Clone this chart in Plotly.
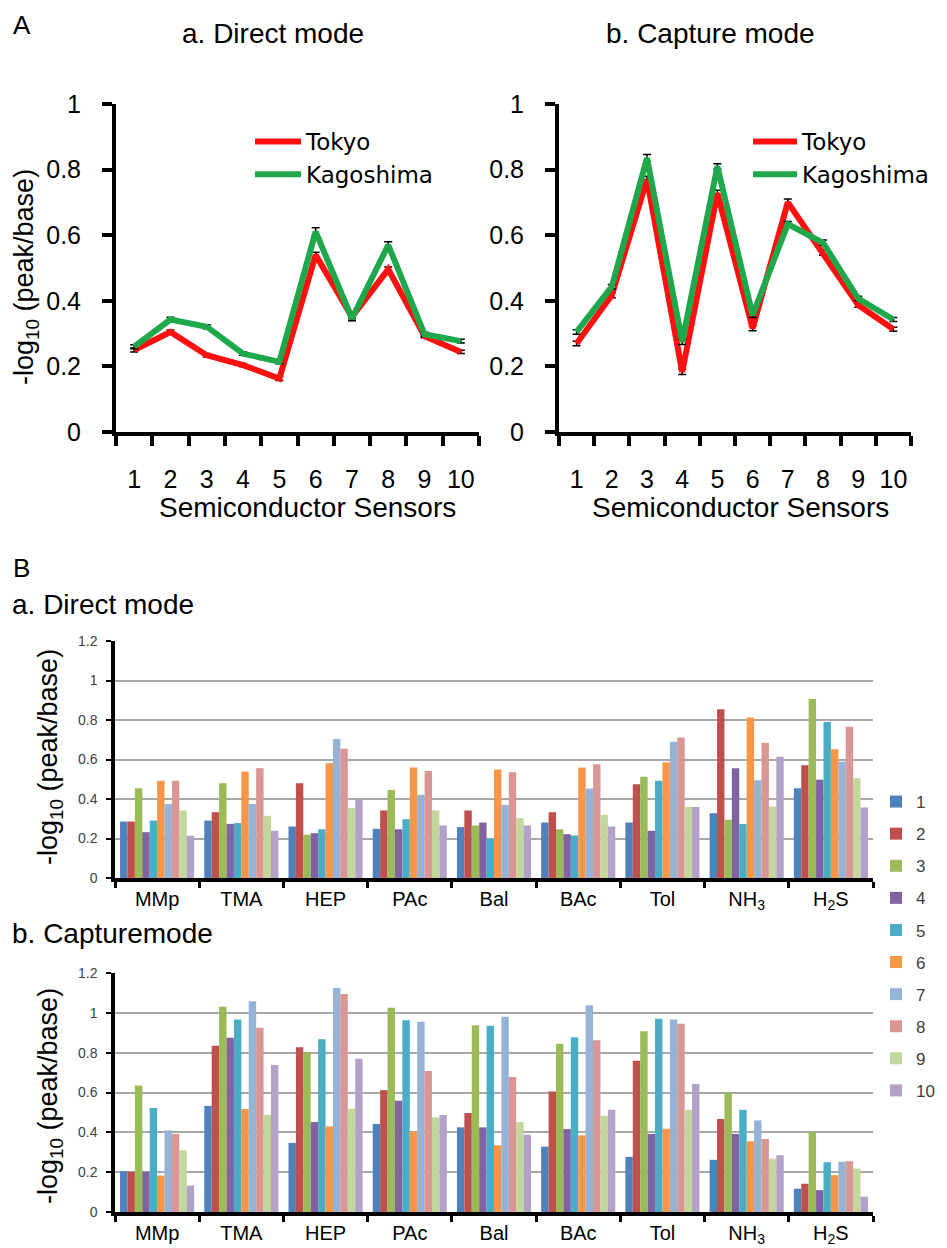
import plotly.graph_objects as go

W, H = 947, 1248
FONT = "Arial, Liberation Sans, sans-serif"
LEGFONT = "DejaVu Sans, Arial, sans-serif"

# ---------------- Data: panel A ----------------
sensors = [str(i) for i in range(1, 11)]
direct_tokyo = [0.250, 0.305, 0.234, 0.204, 0.163, 0.540, 0.351, 0.496, 0.292, 0.244]
direct_kagoshima = [0.260, 0.343, 0.321, 0.239, 0.214, 0.611, 0.346, 0.570, 0.298, 0.277]
direct_tokyo_err = [0.006, 0.006, 0.005, 0.005, 0.006, 0.008, 0.006, 0.007, 0.005, 0.005]
direct_kagoshima_err = [0.006, 0.007, 0.006, 0.005, 0.006, 0.012, 0.007, 0.010, 0.006, 0.006]

capture_tokyo = [0.270, 0.417, 0.770, 0.183, 0.728, 0.316, 0.700, 0.547, 0.387, 0.313]
capture_kagoshima = [0.305, 0.443, 0.835, 0.275, 0.810, 0.356, 0.634, 0.577, 0.407, 0.343]
capture_tokyo_err = [0.007, 0.008, 0.010, 0.008, 0.009, 0.007, 0.010, 0.008, 0.007, 0.006]
capture_kagoshima_err = [0.007, 0.007, 0.011, 0.008, 0.008, 0.007, 0.008, 0.008, 0.007, 0.006]

# ---------------- Data: panel B ----------------
compounds = ["MMp", "TMA", "HEP", "PAc", "Bal", "BAc", "Tol", "NH<sub>3</sub>", "H<sub>2</sub>S"]
sensor_names = [str(i) for i in range(1, 11)]

# direct mode, values of sensors 1..10 for each compound
d_MMp = [0.286, 0.286, 0.455, 0.232, 0.291, 0.492, 0.374, 0.493, 0.342, 0.214]
d_TMA = [0.291, 0.333, 0.480, 0.274, 0.278, 0.539, 0.375, 0.556, 0.315, 0.239]
d_HEP = [0.261, 0.480, 0.219, 0.227, 0.247, 0.581, 0.704, 0.655, 0.354, 0.396]
d_PAc = [0.249, 0.342, 0.446, 0.247, 0.298, 0.559, 0.421, 0.542, 0.342, 0.266]
d_Bal = [0.258, 0.342, 0.266, 0.281, 0.200, 0.549, 0.370, 0.535, 0.303, 0.266]
d_BAc = [0.281, 0.333, 0.247, 0.222, 0.215, 0.559, 0.453, 0.576, 0.320, 0.261]
d_Tol = [0.281, 0.475, 0.513, 0.239, 0.492, 0.586, 0.690, 0.712, 0.360, 0.360]
d_NH3 = [0.328, 0.855, 0.295, 0.556, 0.273, 0.813, 0.495, 0.685, 0.362, 0.614]
d_H2S = [0.455, 0.571, 0.906, 0.498, 0.790, 0.652, 0.589, 0.766, 0.505, 0.357]

# capture mode
c_MMp = [0.205, 0.202, 0.635, 0.202, 0.522, 0.183, 0.410, 0.392, 0.310, 0.133]
c_TMA = [0.533, 0.835, 1.030, 0.875, 0.967, 0.517, 1.058, 0.925, 0.488, 0.738]
c_HEP = [0.347, 0.827, 0.802, 0.452, 0.867, 0.430, 1.125, 1.095, 0.518, 0.770]
c_PAc = [0.442, 0.612, 1.025, 0.558, 0.963, 0.405, 0.955, 0.708, 0.475, 0.487]
c_Bal = [0.425, 0.497, 0.938, 0.425, 0.935, 0.335, 0.980, 0.678, 0.452, 0.388]
c_BAc = [0.328, 0.605, 0.845, 0.417, 0.878, 0.385, 1.038, 0.862, 0.483, 0.513]
c_Tol = [0.277, 0.760, 0.907, 0.392, 0.970, 0.418, 0.967, 0.945, 0.513, 0.643]
c_NH3 = [0.262, 0.467, 0.600, 0.392, 0.513, 0.355, 0.460, 0.367, 0.268, 0.285]
c_H2S = [0.117, 0.142, 0.402, 0.110, 0.250, 0.185, 0.252, 0.255, 0.218, 0.077]

direct_rows = [d_MMp, d_TMA, d_HEP, d_PAc, d_Bal, d_BAc, d_Tol, d_NH3, d_H2S]
capture_rows = [c_MMp, c_TMA, c_HEP, c_PAc, c_Bal, c_BAc, c_Tol, c_NH3, c_H2S]

bar_colors = ["#4F81BD", "#C0504D", "#9BBB59", "#8064A2", "#4BACC6",
              "#F79646", "#95B3D7", "#D99694", "#C3D69B", "#B3A2C7"]
RED = "#FF1010"
GREEN = "#1EA84B"


def xd(a, b):
    return [a / W, b / W]


def yd(top, bottom):
    return [1 - bottom / H, 1 - top / H]


fig = go.Figure()

# ---------- Panel A lines ----------
for xa, ya, tok, kag, terr, kerr, leg in [
    ("x", "y", direct_tokyo, direct_kagoshima, direct_tokyo_err, direct_kagoshima_err, "legend"),
    ("x2", "y2", capture_tokyo, capture_kagoshima, capture_tokyo_err, capture_kagoshima_err, "legend2"),
]:
    fig.add_trace(go.Scatter(
        x=sensors, y=tok, name="Tokyo", mode="lines", xaxis=xa, yaxis=ya,
        line=dict(color=RED, width=6), legend=leg,
        error_y=dict(type="data", array=terr, color="black", thickness=1.5, width=4),
    ))
    fig.add_trace(go.Scatter(
        x=sensors, y=kag, name="Kagoshima", mode="lines", xaxis=xa, yaxis=ya,
        line=dict(color=GREEN, width=6), legend=leg,
        error_y=dict(type="data", array=kerr, color="black", thickness=1.5, width=4),
    ))

# ---------- Panel B bars ----------
for xa, ya, rows, show in [("x3", "y3", direct_rows, True), ("x4", "y4", capture_rows, False)]:
    for i, name in enumerate(sensor_names):
        fig.add_trace(go.Bar(
            x=compounds, y=[r[i] for r in rows], name=name, xaxis=xa, yaxis=ya,
            marker=dict(color=bar_colors[i], line=dict(width=0)),
            showlegend=show, legend="legend3", legendgroup="s" + name,
        ))

top_x_common = dict(
    type="category", tickson="boundaries", ticks="outside", ticklen=10, tickwidth=4,
    tickcolor="black", showline=True, linecolor="black", linewidth=4,
    showgrid=False, zeroline=False, range=[-0.5, 9.5], tickangle=0,
    tickfont=dict(family=FONT, size=25, color="black"), ticklabelstandoff=22,
)
top_y_common = dict(
    range=[0, 1], tickvals=[0, 0.2, 0.4, 0.6, 0.8, 1], ticks="outside", ticklen=10,
    tickwidth=4, tickcolor="black", showline=True, linecolor="black", linewidth=4,
    showgrid=False, zeroline=False,
    tickfont=dict(family=FONT, size=25, color="black"), ticklabelstandoff=16,
)
bot_x_common = dict(
    type="category", tickson="boundaries", ticks="outside", ticklen=6, tickwidth=3,
    tickcolor="black", showline=True, linecolor="black", linewidth=3.5,
    showgrid=False, zeroline=False, range=[-0.5, 8.5], tickangle=0,
    tickfont=dict(family=FONT, size=20, color="black"), ticklabelstandoff=0,
)
bot_y_common = dict(
    range=[0, 1.2], tickvals=[0, 0.2, 0.4, 0.6, 0.8, 1, 1.2], ticks="outside", ticklen=5,
    tickwidth=2, tickcolor="black", showline=True, linecolor="black", linewidth=3.5,
    showgrid=True, gridcolor="#A8A8A8", gridwidth=1.5, zeroline=False,
    tickfont=dict(family=FONT, size=14, color="#404040"), ticklabelstandoff=6,
)

fig.update_layout(
    width=W, height=H, margin=dict(l=0, r=0, t=0, b=0, autoexpand=False),
    paper_bgcolor="white", plot_bgcolor="white",
    font=dict(family=FONT, color="black"),
    bargap=0.12, bargroupgap=0, barmode="group",
    xaxis=dict(domain=xd(116, 479), anchor="y", **top_x_common),
    yaxis=dict(domain=yd(104, 432), anchor="x", **top_y_common),
    xaxis2=dict(domain=xd(559, 911), anchor="y2", **top_x_common),
    yaxis2=dict(domain=yd(104, 432), anchor="x2", **top_y_common),
    xaxis3=dict(domain=xd(115, 873), anchor="y3", **bot_x_common),
    yaxis3=dict(domain=yd(641, 878), anchor="x3", **bot_y_common),
    xaxis4=dict(domain=xd(115, 873), anchor="y4", **bot_x_common),
    yaxis4=dict(domain=yd(973, 1212), anchor="x4", **bot_y_common),
    legend=dict(x=250 / W, y=1 - 120 / H, xanchor="left", yanchor="top",
                bgcolor="rgba(0,0,0,0)", font=dict(family=LEGFONT, size=23, color="black"),
                tracegroupgap=0, itemwidth=46),
    legend2=dict(x=748 / W, y=1 - 120 / H, xanchor="left", yanchor="top",
                 bgcolor="rgba(0,0,0,0)", font=dict(family=LEGFONT, size=23, color="black"),
                 tracegroupgap=0, itemwidth=44),
    legend3=dict(x=876 / W, y=1 - 784 / H, xanchor="left", yanchor="top",
                 bgcolor="rgba(0,0,0,0)", font=dict(family=FONT, size=17, color="#404040"),
                 tracegroupgap=7, itemwidth=30),
)


def ann(text, x, y, size, angle=0, xanchor="center"):
    fig.add_annotation(text=text, x=x / W, y=1 - y / H, xref="paper", yref="paper",
                       showarrow=False, textangle=angle, xanchor=xanchor, yanchor="middle",
                       font=dict(family=FONT, size=size, color="black"))


ann("A", 22, 25, 26)
ann("a. Direct mode", 273, 33, 28)
ann("b. Capture mode", 710, 33, 28)
ann("-log<sub>10</sub> (peak/base)", 26, 277, 27, angle=-90)
ann("Semiconductor Sensors", 307, 507, 28)
ann("Semiconductor Sensors", 740, 507, 28)
ann("B", 21, 568, 26)
ann("a. Direct mode", 10, 604, 28, xanchor="left")
ann("-log<sub>10</sub> (peak/base)", 50, 757, 27, angle=-90)
ann("b. Capturemode", 10, 933, 28, xanchor="left")
ann("-log<sub>10</sub> (peak/base)", 50, 1096, 27, angle=-90)

fig.write_html("out.html", config={"displayModeBar": False},
               post_script="document.body.style.margin='0';")
